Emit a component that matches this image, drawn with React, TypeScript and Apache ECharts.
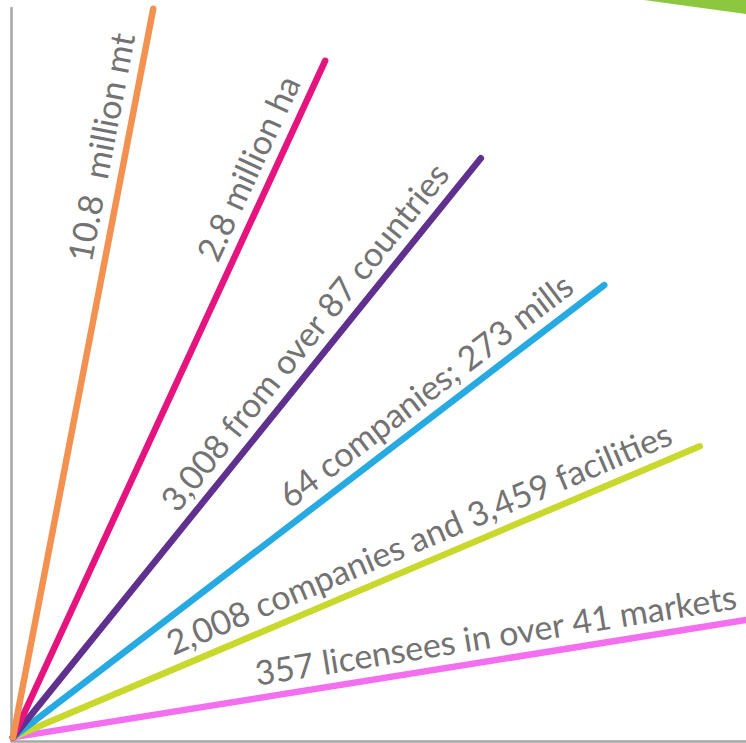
import React, { useEffect, useRef } from "react";
import * as echarts from "echarts";

// Fan of six rays from a common origin (arbitrary 0-100 units on both axes)
const labels = [
  "10.8  million mt",
  "2.8 million ha",
  "3,008 from over 87 countries",
  "64 companies; 273 mills",
  "2,008 companies and 3,459 facilities",
  "357 licensees in over 41 markets",
];
const endX = [19.3, 42.7, 63.9, 80.7, 93.7, 100];
const endY = [99.9, 92.8, 79.5, 62.2, 40.2, 16.5];
const origin = [0.2, 0.5];
const colors = ["#f39250", "#e5147f", "#60308f", "#27a9e1", "#c8d82c", "#f46ef0"];
const labelGap = [30, 30, 32, 26, 22, 6];

export default function App() {
  const ref = useRef<HTMLDivElement>(null);
  useEffect(() => {
    if (!ref.current) return;
    const chart = echarts.init(ref.current, null, { renderer: "svg" });
    const axisCommon = {
      type: "value",
      min: 0,
      max: 100,
      axisLine: { show: true, lineStyle: { color: "#a6a6a6", width: 2.5 } },
      axisTick: { show: false },
      axisLabel: { show: false },
      splitLine: { show: false },
    };
    const series = labels.map((lab, i) => ({
      type: "line",
      data: [
        [origin[0], origin[1]],
        [endX[i], endY[i]],
      ],
      symbol: "none",
      showSymbol: false,
      clip: false,
      z: 10 - i,
      lineStyle: { width: 6.5, color: colors[i], cap: "round" },
      markLine: {
        silent: true,
        symbol: ["none", "none"],
        lineStyle: { color: "rgba(0,0,0,0)", width: 0, opacity: 1 },
        label: {
          show: true,
          position: "insideEndTop",
          formatter: lab,
          color: "#737373",
          opacity: 1,
          fontSize: 34,
          fontFamily: "Lato",
          distance: [labelGap[i], 9],
        },
        data: [[{ coord: [origin[0], origin[1]] }, { coord: [endX[i], endY[i]] }]],
      },
    }));
    chart.setOption({
      animation: false,
      backgroundColor: "#ffffff",
      grid: { left: 11.5, right: 0, top: 8, bottom: 2 },
      xAxis: axisCommon,
      yAxis: axisCommon,
      graphic: [
        {
          type: "polygon",
          shape: { points: [[644, 0], [746, 0], [746, 14]] },
          style: { fill: "#8dc63f" },
        },
      ],
      series,
    });
    return () => chart.dispose();
  }, []);
  return (
    <div
      ref={ref}
      style={{ position: "absolute", left: 0, top: 0, width: 746, height: 743 }}
    />
  );
}
